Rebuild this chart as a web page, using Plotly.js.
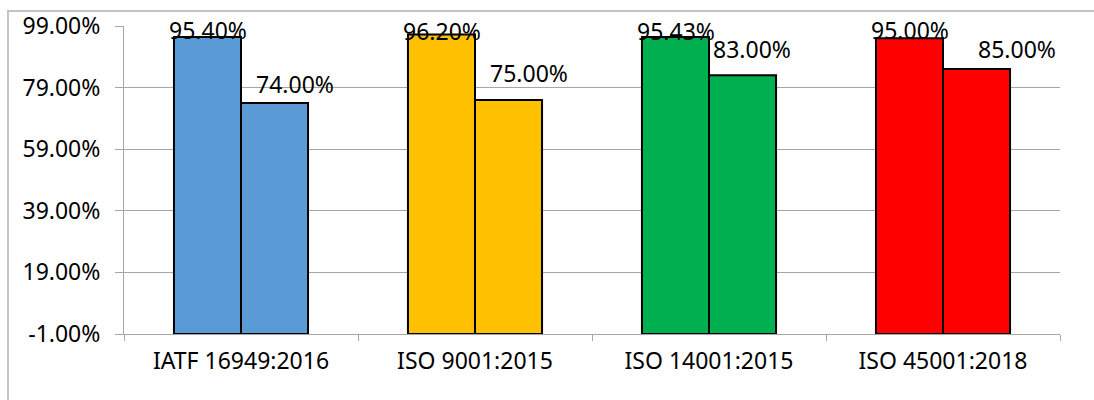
<!DOCTYPE html>
<html>
<head>
<meta charset="utf-8">
<script src="https://cdn.plot.ly/plotly-3.0.1.min.js"></script>
<style>
  html, body { margin: 0; padding: 0; background: #ffffff; }
  #wrap { position: relative; width: 1094px; height: 400px; overflow: hidden; }
  #chart { position: absolute; left: 0; top: 0; width: 1094px; height: 400px; }
  #frame { position: absolute; left: 7px; top: 10px; width: 1200px; height: 500px;
           border-left: 2px solid #c4c4c4; border-top: 2px solid #c4c4c4; pointer-events: none; }
</style>
</head>
<body>
<div id="wrap">
  <div id="chart"></div>
  <div id="frame"></div>
</div>
<script>
// ---- data ----
const categories = ['IATF 16949:2016', 'ISO 9001:2015', 'ISO 14001:2015', 'ISO 45001:2018'];
const series1 = [95.40, 96.20, 95.43, 95.00];
const series2 = [74.00, 75.00, 83.00, 85.00];
const barColors = ['#5B9BD5', '#FFC000', '#00B050', '#FF0000'];
const yTickValues = [-1, 19, 39, 59, 79, 99];
const yTickLabels = ['-1.00%', '19.00%', '39.00%', '59.00%', '79.00%', '99.00%'];
const axisMin = -1;
const axisMax = 99;

// ---- label placement (pixel nudges, style only) ----
const labelNudgeX = [[0, 0, 0, 0], [20, 20.5, 9, 40.5]];
const labelNudgeY = [[6.8, 4.1, 6.5, 7.9], [19, 26.5, 26.3, 20]];
const halfBarPx = 33.5;

const font = 'Noto Sans, Open Sans, sans-serif';
const allSeries = [series1, series2];

const traces = allSeries.map(function (vals) {
  return {
    type: 'bar',
    x: categories,
    y: vals.map(function (v) { return v - axisMin; }),
    base: axisMin,
    marker: { color: barColors, line: { color: '#000000', width: 2 } },
    hoverinfo: 'skip',
    showlegend: false
  };
});

const annotations = [];
allSeries.forEach(function (vals, s) {
  vals.forEach(function (v, i) {
    annotations.push({
      x: categories[i], y: v, xref: 'x', yref: 'y',
      text: v.toFixed(2) + '%',
      showarrow: false,
      xanchor: 'center', yanchor: 'middle',
      xshift: (s === 0 ? -halfBarPx : halfBarPx) + labelNudgeX[s][i],
      yshift: labelNudgeY[s][i],
      font: { family: font, size: 23, color: '#000000' }
    });
  });
});

const layout = {
  width: 1094, height: 400,
  margin: { l: 124, r: 34, t: 26, b: 66, pad: 0 },
  paper_bgcolor: 'rgba(0,0,0,0)',
  plot_bgcolor: 'rgba(0,0,0,0)',
  font: { family: font, size: 23, color: '#000000' },
  barmode: 'group',
  bargap: 0.427,
  bargroupgap: 0,
  showlegend: false,
  xaxis: {
    type: 'category',
    showline: true, linecolor: '#a6a6a6', linewidth: 1,
    ticks: 'outside', tickson: 'boundaries', ticklen: 6, tickcolor: '#a6a6a6', tickwidth: 1,
    showgrid: false, zeroline: false,
    ticklabelstandoff: 6,
    tickfont: { family: font, size: 23, color: '#000000' }
  },
  yaxis: {
    range: [axisMin, axisMax],
    tickmode: 'array', tickvals: yTickValues, ticktext: yTickLabels,
    showline: true, linecolor: '#a6a6a6', linewidth: 1,
    ticks: 'outside', ticklen: 8, tickcolor: '#a6a6a6', tickwidth: 1,
    showgrid: true, gridcolor: '#a6a6a6', gridwidth: 1,
    zeroline: false,
    ticklabelstandoff: 10,
    tickfont: { family: font, size: 23, color: '#000000' }
  },
  annotations: annotations
};

Plotly.newPlot('chart', traces, layout, { staticPlot: true, displayModeBar: false });
</script>
</body>
</html>
